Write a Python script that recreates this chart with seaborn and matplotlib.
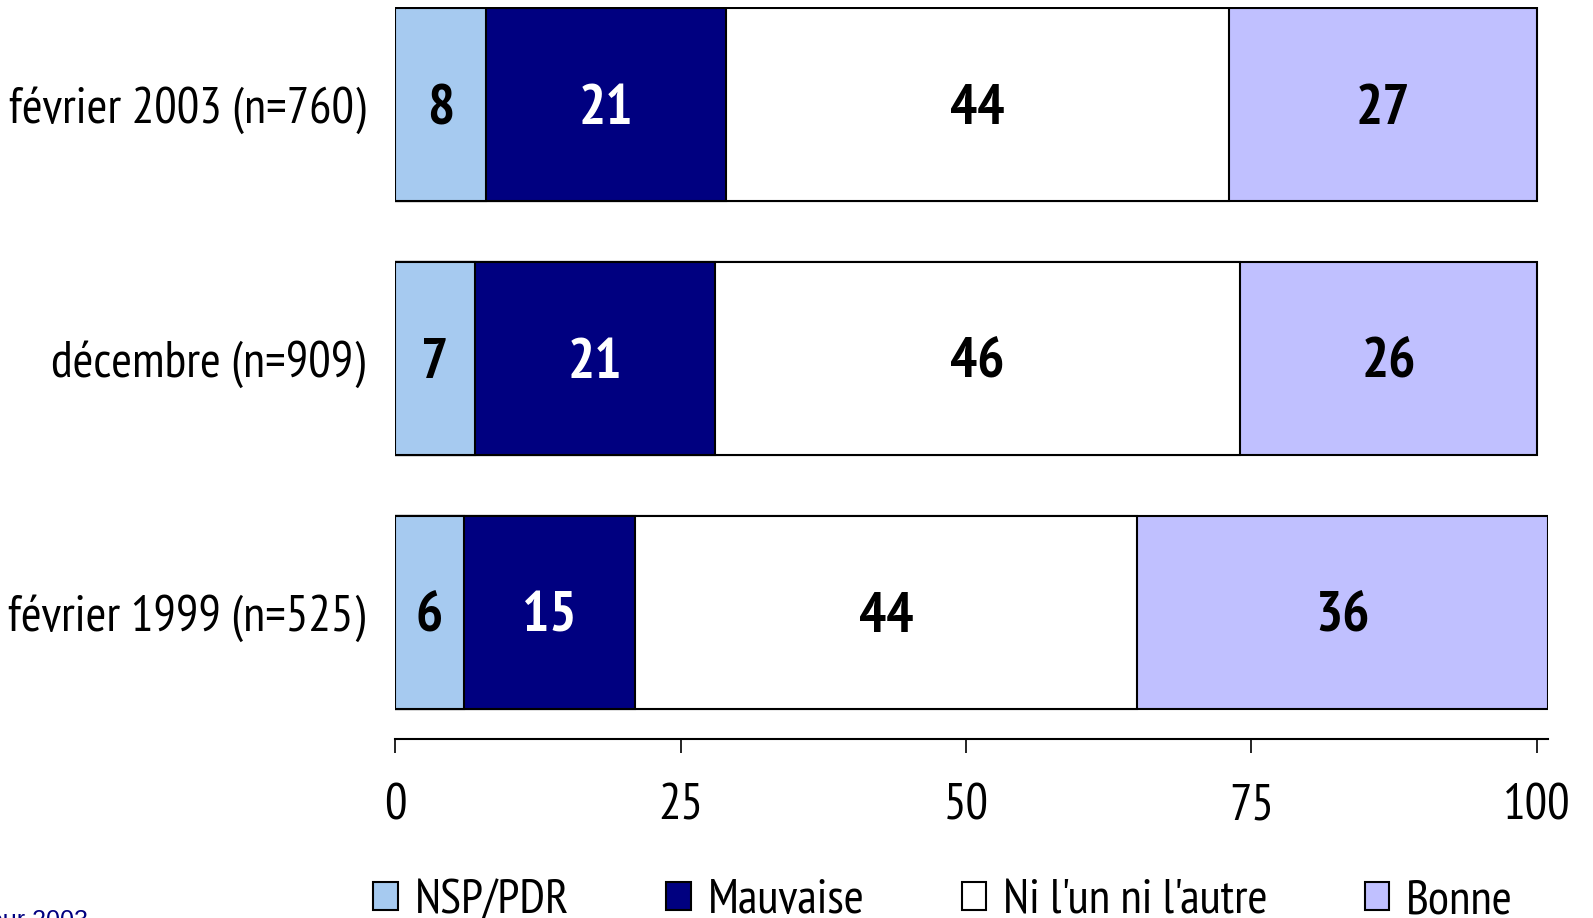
import pandas as pd
import matplotlib.pyplot as plt
from matplotlib import font_manager as fm
from matplotlib.patches import Patch
import seaborn as sns

periods = ['février 2003 (n=760)', 'décembre (n=909)', 'février 1999 (n=525)']
answers = ['NSP/PDR', 'Mauvaise', "Ni l'un ni l'autre", 'Bonne']
nsp = [8, 7, 6]
mauvaise = [21, 21, 15]
ni = [44, 46, 44]
bonne = [27, 26, 36]
colors = ['#A6CAF0', '#000080', '#FFFFFF', '#C0C0FF']
label_colors = ['black', 'white', 'black', 'black']

candidates = ['Liberation Sans Narrow', 'Arial Narrow', 'PT Sans Narrow', 'Archivo Narrow',
              'Roboto Condensed', 'Open Sans Condensed', 'Arimo', 'Liberation Sans']


def pick_font(bold=False):
    for name in candidates:
        try:
            path = fm.findfont(fm.FontProperties(family=name, weight='bold' if bold else 'normal'),
                               fallback_to_default=False)
        except ValueError:
            continue
        if not bold or 'bold' in path.lower():
            return name
    return 'DejaVu Sans'


narrow = pick_font()
narrow_bold = pick_font(bold=True)

sns.set_style('white')
plt.rcParams['font.family'] = [narrow, 'DejaVu Sans']

values = pd.DataFrame({'NSP/PDR': nsp, 'Mauvaise': mauvaise,
                       "Ni l'un ni l'autre": ni, 'Bonne': bonne}, index=periods)
cum = values.cumsum(axis=1)

fig = plt.figure(figsize=(15.93, 9.18), dpi=100)
ax = fig.add_axes([0.248, 0.195, 0.724, 0.7974])

# stacked bars: draw cumulative totals from the right-most segment down
for ans, col in reversed(list(zip(answers, colors))):
    df = pd.DataFrame({'period': periods, 'cum': cum[ans].values})
    sns.barplot(data=df, x='cum', y='period', orient='h', color=col,
                saturation=1, width=0.76, edgecolor='black', linewidth=1.5, ax=ax)

for i, p in enumerate(periods):
    for ans, tc in zip(answers, label_colors):
        v = values.loc[p, ans]
        ax.text(cum.loc[p, ans] - v / 2, i + 0.02, str(v), ha='center', va='center',
                fontsize=41, fontweight='bold', color=tc,
                family=[narrow_bold, 'DejaVu Sans'])

ax.set_xlim(0, 101)
ax.set_ylim(2.5, -0.385)
ax.set_xticks([0, 25, 50, 75, 100])
ax.set_xlabel('')
ax.set_ylabel('')
sns.despine(ax=ax, left=True, top=True, right=True)
ax.spines['bottom'].set_linewidth(1.5)
ax.spines['bottom'].set_color('black')
ax.tick_params(axis='x', bottom=True, direction='out', length=10, width=1.2,
               pad=22, labelsize=36, colors='black')
ax.tick_params(axis='y', left=False, pad=18, labelsize=36, labelcolor='black')

handles = [Patch(facecolor=c, edgecolor='black', linewidth=1.5) for c in colors]
fig.legend(handles, answers, loc='center', bbox_to_anchor=(0.592, 0.018), ncol=4,
           frameon=False, fontsize=35, handlelength=0.5, handleheight=0.5,
           handletextpad=0.35, columnspacing=2.0, borderpad=0, labelcolor='black')

fig.text(0.0552, 0.0098, 'pour 2003', ha='right', va='top', fontsize=18,
         color='#000080', family=['Liberation Sans', 'DejaVu Sans'])

fig.savefig('out.png', dpi=100)
